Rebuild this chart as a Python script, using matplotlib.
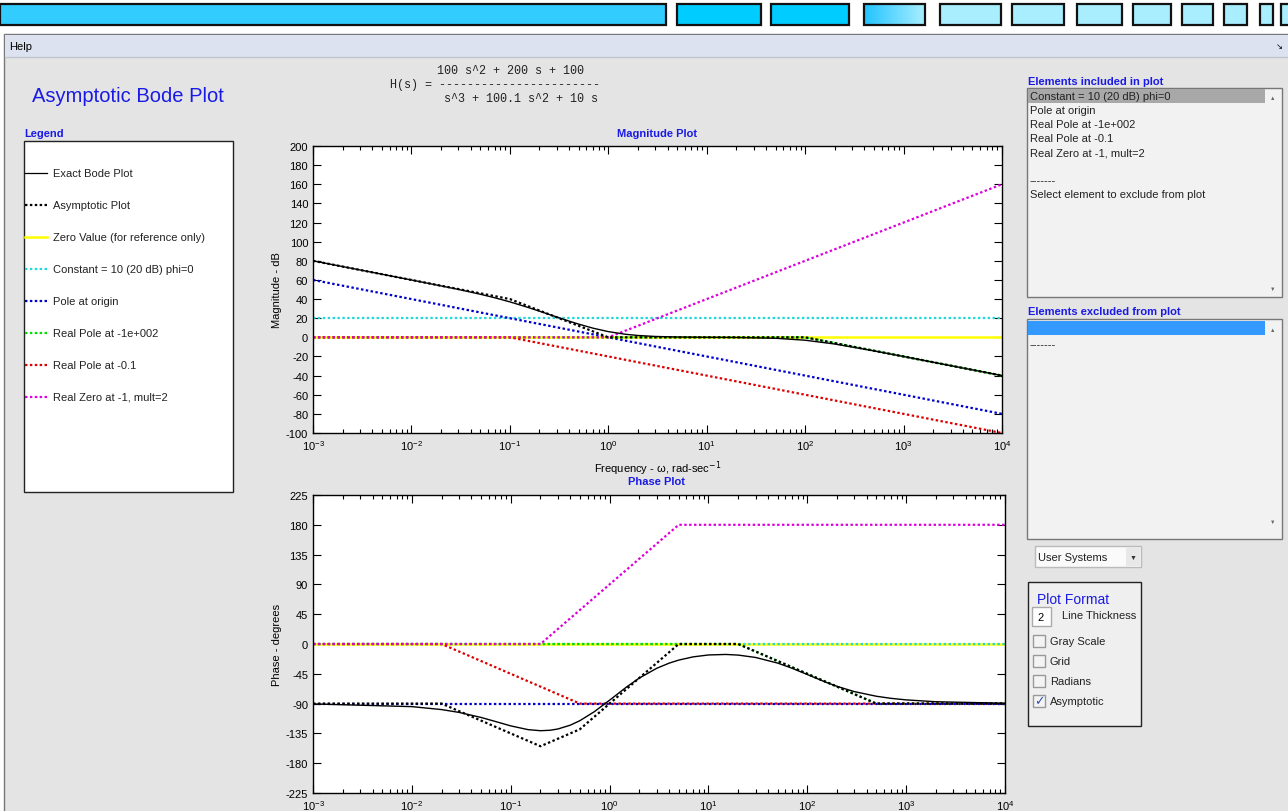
import numpy as np
import matplotlib.pyplot as plt
from matplotlib.patches import Rectangle
from matplotlib.colors import LinearSegmentedColormap

plt.rcParams['font.family'] = ['Liberation Sans', 'DejaVu Sans']
plt.rcParams['axes.unicode_minus'] = False

W, H = 1288, 812

# ---- data ----
# magnitude asymptotes (corner freqs, dB)
w_full = [1e-3, 1e4]
mag_zero = [0, 0]
mag_const = [20, 20]
mag_pole0 = [60, -80]
w_pole100 = [1e-3, 100, 1e4]
mag_pole100 = [0, 0, -40]
w_pole01 = [1e-3, 0.1, 1e4]
mag_pole01 = [0, 0, -100]
w_zero1 = [1e-3, 1, 1e4]
mag_zero1 = [0, 0, 160]
w_asym_mag = [1e-3, 0.1, 1, 100, 1e4]
mag_asym = [80, 40, 0, 0, -40]

# exact magnitude curve
w_exact_mag = [1e-3, 1e-2, 0.03, 0.05, 0.07, 0.1, 0.15, 0.2, 0.3, 0.4, 0.5, 0.7, 1, 1.5,
               2, 3, 5, 10, 20, 50, 100, 200, 500, 1000, 1e4]
mag_exact = [80.0, 59.96, 50.09, 45.07, 41.41, 37.08, 31.55, 27.33, 21.21, 16.95, 13.81,
             9.57, 5.98, 3.18, 1.93, 0.91, 0.33, 0.04, -0.15, -0.97, -3.01, -6.99,
             -14.15, -20.04, -40.0]

# phase asymptotes (deg)
ph_zero = [0, 0]
ph_const = [0, 0]
ph_pole0 = [-90, -90]
w_ph_pole100 = [1e-3, 20, 500, 1e4]
ph_pole100 = [0, 0, -90, -90]
w_ph_pole01 = [1e-3, 0.02, 0.5, 1e4]
ph_pole01 = [0, 0, -90, -90]
w_ph_zero1 = [1e-3, 0.2, 5, 1e4]
ph_zero1 = [0, 0, 180, 180]
w_asym_ph = [1e-3, 0.02, 0.2, 0.5, 5, 20, 500, 1e4]
ph_asym = [-90, -90, -154.4, -128.8, 0, 0, -90, -90]

# exact phase curve
w_exact_ph = [1e-3, 0.01, 0.02, 0.03, 0.05, 0.07, 0.1, 0.15, 0.2, 0.25, 0.3, 0.4, 0.5,
              0.7, 1, 1.5, 2, 3, 4, 5, 7, 10, 15, 20, 30, 50, 70, 100, 150, 200, 300,
              500, 700, 1000, 2000, 1e4]
ph_exact = [-90.46, -94.57, -99.03, -103.28, -110.87, -117.02, -123.64, -129.34, -130.93,
            -130.27, -128.34, -122.59, -115.85, -102.29, -84.86, -64.43, -51.42, -36.68,
            -28.93, -24.33, -19.44, -16.56, -15.78, -16.74, -20.33, -28.75, -36.55,
            -46.09, -57.03, -63.97, -71.93, -78.91, -82.02, -84.39, -87.2, -89.44]

legend_labels = ['Exact Bode Plot', 'Asymptotic Plot', 'Zero Value (for reference only)',
                 'Constant = 10 (20 dB) phi=0', 'Pole at origin', 'Real Pole at -1e+002',
                 'Real Pole at -0.1', 'Real Zero at -1, mult=2']
included = ['Constant = 10 (20 dB) phi=0', 'Pole at origin', 'Real Pole at -1e+002',
            'Real Pole at -0.1', 'Real Zero at -1, mult=2', '', '-------',
            'Select element to exclude from plot']
options = ['Gray Scale', 'Grid', 'Radians', 'Asymptotic']
checked = [False, False, False, True]

# colours / styles
c_yel, c_cyan, c_blue = '#FFFF00', '#22D8D8', '#0000CC'
c_green, c_red, c_mag = '#00DD00', '#DD0000', '#DD00DD'
blue_txt = '#1A1AE6'
DOT = (0, (1.1, 1.1))
styles = [('k', '-', 0.9), ('k', DOT, 1.6), (c_yel, '-', 1.8), (c_cyan, DOT, 1.6),
          (c_blue, DOT, 1.6), (c_green, DOT, 1.6), (c_red, DOT, 1.6), (c_mag, DOT, 1.6)]

fig = plt.figure(figsize=(W / 100, H / 100), dpi=100)
fig.patch.set_facecolor('white')

# background axes in pixel coords
bg = fig.add_axes([0, 0, 1, 1])
bg.set_xlim(0, W)
bg.set_ylim(H, 0)
bg.axis('off')


def rect(x0, y0, x1, y1, fc, ec='none', lw=1, z=1):
    bg.add_patch(Rectangle((x0, y0), x1 - x0, y1 - y0, facecolor=fc, edgecolor=ec, lw=lw, zorder=z))


def txt(x, y, s, **kw):
    kw.setdefault('va', 'center')
    kw.setdefault('fontsize', 8)
    bg.text(x, y, s, **kw)


# top bars
bars = [(0, 666), (677, 761), (771, 849), (864, 925), (940, 1001), (1012, 1064), (1077, 1122),
        (1133, 1171), (1182, 1213), (1224, 1247), (1260, 1273), (1281, 1295)]
bar_cols = ['#33CCFF', '#00CCFF', '#00CCFF', None] + ['#A8EEFF'] * 8
for (x0, x1), col in zip(bars, bar_cols):
    if col is None:
        grad = np.linspace(0, 1, 64)[None, :]
        cm = LinearSegmentedColormap.from_list('g', ['#22C4FF', '#A8EEFF'])
        bg.imshow(grad, extent=(x0, x1, 26, 5), cmap=cm, aspect='auto', zorder=1)
        rect(x0, 5, x1, 26, 'none', '#111111', 1.6, z=2)
    else:
        rect(x0, 5, x1, 26, col, '#111111', 1.6, z=2)

# window / menu
rect(4, 35, 1290, 830, '#E4E4E4', '#777777', 1)
rect(5, 36, 1289, 58, '#DCE2EF', z=2)
bg.plot([5, 1289], [58, 58], color='#C0C4CC', lw=1, zorder=3)
txt(9, 47, 'Help', fontsize=8, zorder=4)
txt(1276, 47, '\u2198', fontsize=6, family='DejaVu Sans', zorder=4)

# title and transfer function
txt(32, 96, 'Asymptotic Bode Plot', fontsize=14.5, color=blue_txt)
mono = dict(family='Liberation Mono', fontsize=8.5, color='#222222')
txt(437, 71, '100 s^2 + 200 s + 100', **mono)
txt(390, 85, 'H(s) = -----------------------', **mono)
txt(444, 99, 's^3 + 100.1 s^2 + 10 s', **mono)

# legend panel
txt(24, 134, 'Legend', fontweight='bold', color=blue_txt)
rect(24, 142, 233, 493, 'white', '#222222', 1, z=2)
for i, (lab, (col, ls, lw)) in enumerate(zip(legend_labels, styles)):
    y = 174 + 32 * i
    bg.plot([25, 47], [y, y], color=col, ls=ls, lw=lw, zorder=3)
    txt(53, y, lab, zorder=3, color='#222222')

# right panel - included list
txt(1028, 82, 'Elements included in plot', fontweight='bold', color=blue_txt)
rect(1027, 89, 1282, 298, '#F2F2F2', '#777777', 1, z=2)
rect(1028, 90, 1265, 104, '#A8A8A8', z=3)
for i, s in enumerate(included):
    txt(1030, 97 + 14 * i, s, zorder=4, color='#222222')
txt(1273, 98, '\u25B2', fontsize=4, ha='center', color='#666666', zorder=4)
txt(1273, 289, '\u25BC', fontsize=4, ha='center', color='#666666', zorder=4)

# excluded list
txt(1028, 312, 'Elements excluded from plot', fontweight='bold', color=blue_txt)
rect(1027, 320, 1282, 540, '#F2F2F2', '#777777', 1, z=2)
rect(1028, 322, 1265, 336, '#3399FF', z=3)
txt(1030, 345, '-------', zorder=4, color='#222222')
txt(1273, 331, '\u25B2', fontsize=4, ha='center', color='#666666', zorder=4)
txt(1273, 522, '\u25BC', fontsize=4, ha='center', color='#666666', zorder=4)

# dropdown
rect(1035, 547, 1141, 568, '#FAFAFA', '#BBBBBB', 1, z=2)
rect(1126, 548, 1140, 567, '#E8E8E8', z=3)
txt(1038, 558, 'User Systems', zorder=4, color='#222222')
txt(1133, 558, '\u25BC', fontsize=5, ha='center', color='#333333', zorder=4)

# plot format box
rect(1028, 583, 1141, 727, '#EFEFEF', '#222222', 1, z=2)
txt(1037, 600, 'Plot Format', fontsize=10, color=blue_txt, zorder=4)
rect(1032, 608, 1051, 627, 'white', '#AAAAAA', 1, z=3)
txt(1041, 618, '2', ha='center', zorder=4)
txt(1062, 616, 'Line Thickness', zorder=4, color='#222222')
for i, (s, on) in enumerate(zip(options, checked)):
    y = 642 + 20 * i
    rect(1033, y - 6, 1045, y + 6, '#F4F4F4', '#999999', 1, z=3)
    if on:
        txt(1039, y, '\u2713', fontsize=9, ha='center', color='#3050B0',
            family='DejaVu Sans', zorder=4)
    txt(1050, y, s, zorder=4, color='#222222')

# plot titles
txt(657, 134, 'Magnitude Plot', fontweight='bold', color=blue_txt, ha='center')
txt(657, 482, 'Phase Plot', fontweight='bold', color=blue_txt, ha='center')


def px_axes(x0, y0, x1, y1):
    return fig.add_axes([x0 / W, 1 - y1 / H, (x1 - x0) / W, (y1 - y0) / H])


def style_axes(ax, yticks, ylim):
    ax.set_xscale('log')
    ax.set_xlim(1e-3, 1e4)
    ax.set_ylim(*ylim)
    ax.set_yticks(yticks)
    ax.set_facecolor('white')
    ax.tick_params(which='both', direction='in', top=True, right=True, labelsize=8, width=0.8)
    ax.tick_params(which='major', length=6)
    ax.tick_params(which='minor', length=3)
    for sp in ax.spines.values():
        sp.set_linewidth(1)


# magnitude axes
ax1 = px_axes(313, 147, 1002, 434)
ax1.plot(w_full, mag_zero, color=c_yel, lw=1.8)
ax1.plot(w_full, mag_const, color=c_cyan, ls=DOT, lw=1.6)
ax1.plot(w_full, mag_pole0, color=c_blue, ls=DOT, lw=1.6)
ax1.plot(w_pole100, mag_pole100, color=c_green, ls=DOT, lw=1.6)
ax1.plot(w_pole01, mag_pole01, color=c_red, ls=DOT, lw=1.6)
ax1.plot(w_zero1, mag_zero1, color=c_mag, ls=DOT, lw=1.6)
ax1.plot(w_asym_mag, mag_asym, color='k', ls=DOT, lw=1.6)
ax1.plot(w_exact_mag, mag_exact, color='k', lw=1.0)
style_axes(ax1, np.arange(-100, 201, 20), (-100, 200))
ax1.set_ylabel('Magnitude - dB', fontsize=8, labelpad=3)
ax1.set_xlabel('Frequency - \u03c9, rad-sec$^{-1}$', fontsize=8, labelpad=5)

# phase axes
ax2 = px_axes(313, 496, 1005, 794)
ax2.plot(w_full, ph_zero, color=c_yel, lw=1.8)
ax2.plot(w_full, ph_const, color=c_cyan, ls=DOT, lw=1.6)
ax2.plot(w_full, ph_pole0, color=c_blue, ls=DOT, lw=1.6)
ax2.plot(w_ph_pole100, ph_pole100, color=c_green, ls=DOT, lw=1.6)
ax2.plot(w_ph_pole01, ph_pole01, color=c_red, ls=DOT, lw=1.6)
ax2.plot(w_ph_zero1, ph_zero1, color=c_mag, ls=DOT, lw=1.6)
ax2.plot(w_asym_ph, ph_asym, color='k', ls=DOT, lw=1.6)
ax2.plot(w_exact_ph, ph_exact, color='k', lw=1.0)
style_axes(ax2, np.arange(-225, 226, 45), (-225, 225))
ax2.set_ylabel('Phase - degrees', fontsize=8, labelpad=3)

fig.savefig('out.png', dpi=100)
